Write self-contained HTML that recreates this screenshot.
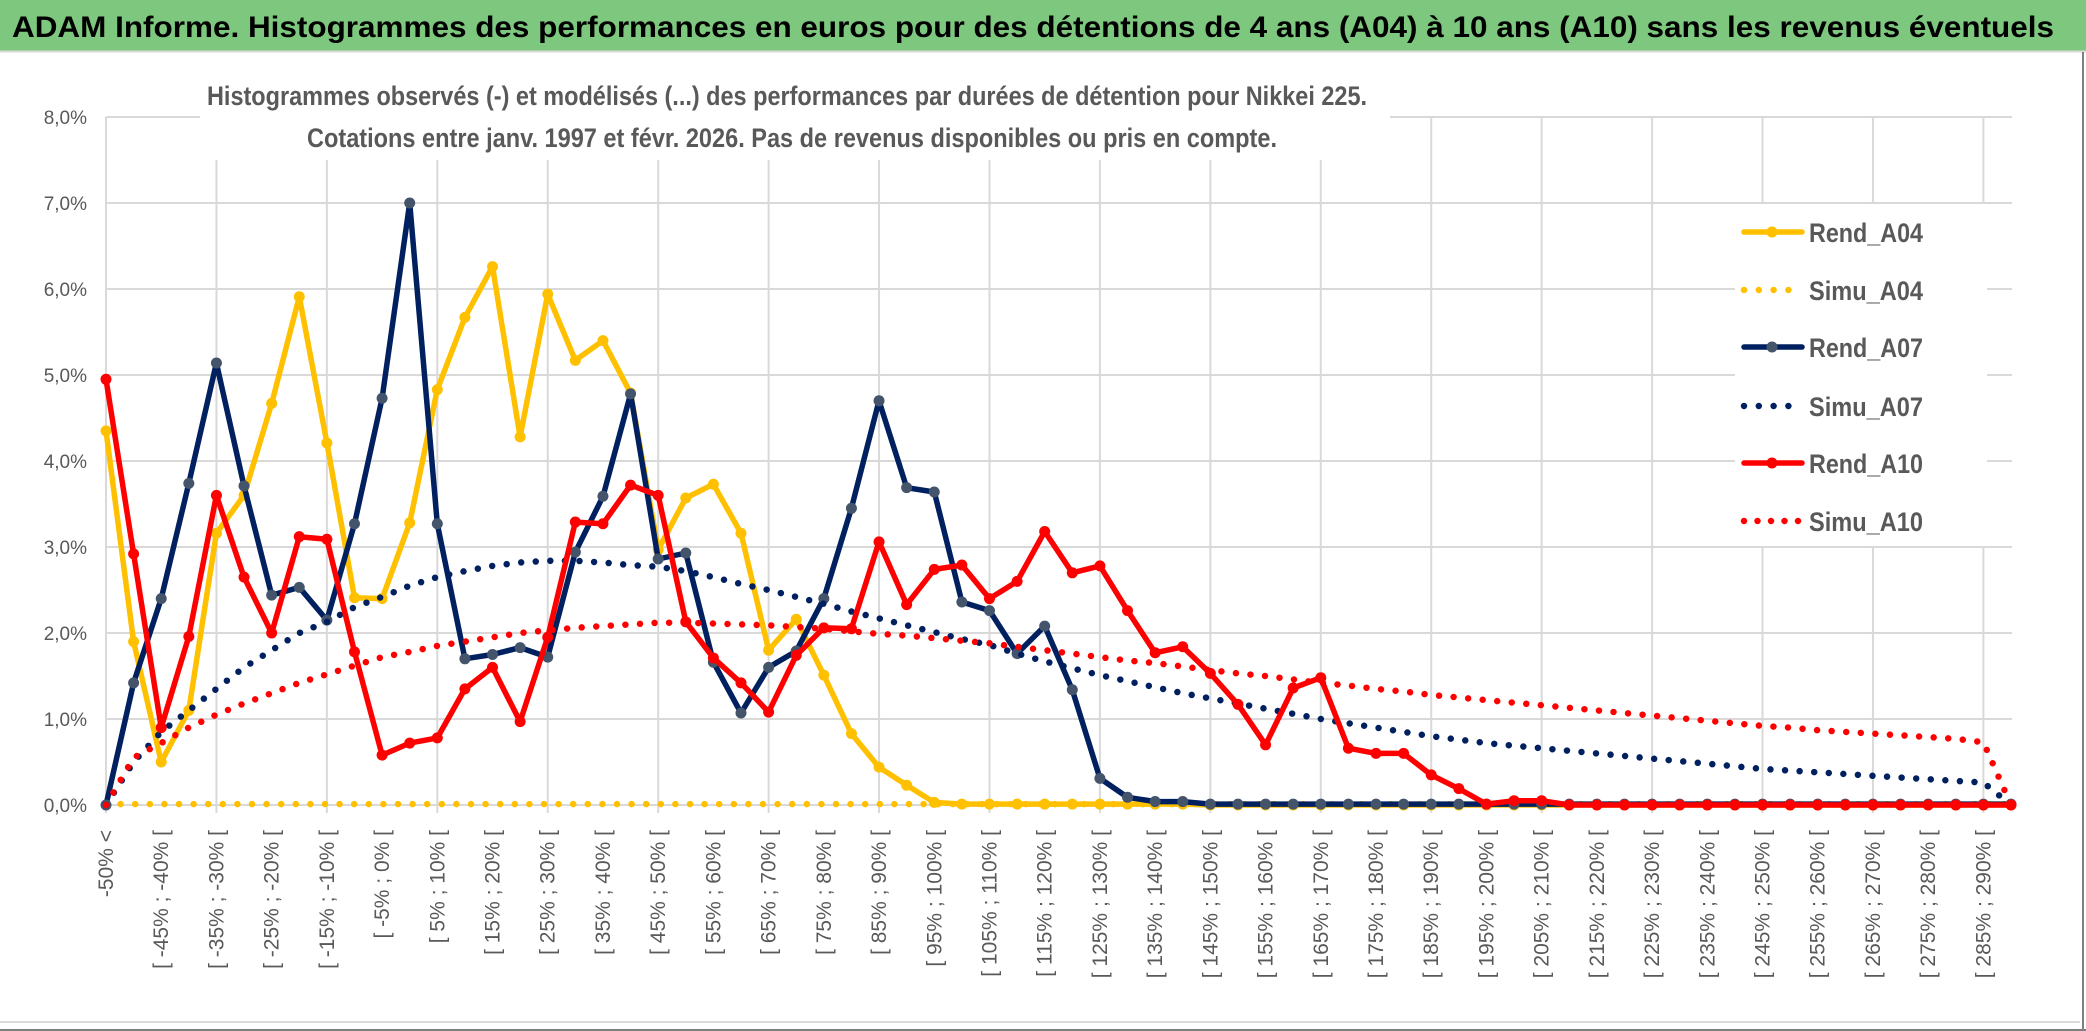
<!DOCTYPE html>
<html>
<head>
<meta charset="utf-8">
<style>
html,body{margin:0;padding:0;background:#fff;}
body{width:2086px;height:1031px;overflow:hidden;font-family:"Liberation Sans",sans-serif;}
svg{display:block;}
</style>
</head>
<body>
<svg id="chart" width="2086" height="1031" viewBox="0 0 2086 1031" xmlns="http://www.w3.org/2000/svg">
  <rect x="0" y="0" width="2086" height="1031" fill="#fff"/>
  <rect x="0" y="0" width="2086" height="51" fill="#7dc77e"/>
  <line x1="0" y1="51.5" x2="2086" y2="51.5" stroke="#d9d9d9" stroke-width="2"/>
  <text x="12" y="37" font-size="30" font-weight="bold" fill="#000" textLength="2042" lengthAdjust="spacingAndGlyphs">ADAM Informe. Histogrammes des performances en euros pour des détentions de 4 ans (A04) à 10 ans (A10) sans les revenus éventuels</text>
  <line x1="2083" y1="52" x2="2083" y2="1031" stroke="#7f7f7f" stroke-width="2"/>
  <line x1="0" y1="1030" x2="2086" y2="1030" stroke="#7f7f7f" stroke-width="2"/>
  <line x1="0" y1="1022" x2="2080" y2="1022" stroke="#d9d9d9" stroke-width="2"/>
  <g id="grid"></g>
  <g id="yaxis"></g>
  <g id="xaxis"></g>
  <g id="series"></g>
  <rect x="200" y="72" width="1190" height="88" fill="#fff"/>
  <text x="207" y="105" font-size="27" font-weight="bold" fill="#595959" textLength="1160" lengthAdjust="spacingAndGlyphs">Histogrammes observés (-) et modélisés (...) des performances par durées de détention pour Nikkei 225.</text>
  <text x="307" y="147" font-size="27" font-weight="bold" fill="#595959" textLength="970" lengthAdjust="spacingAndGlyphs">Cotations entre janv. 1997 et févr. 2026. Pas de revenus disponibles ou pris en compte.</text>
  <g id="legend"></g>
</svg>
<script>
const categories = ["-50% <"];
const bucketStarts = [-50,-45,-40,-35,-30,-25,-20,-15,-10,-5,0,5,10,15,20,25,30,35,40,45,50,55,60,65,70,75,80,85,90,95,100,105,110,115,120,125,130,135,140,145,150,155,160,165,170,175,180,185,190,195,200,205,210,215,220,225,230,235,240,245,250,255,260,265,270,275,280,285,290];
bucketStarts.forEach(b => categories.push("[ " + b + "% ; " + (b + 5) + "% ["));

const rendA04 = [4.35,1.9,0.5,1.1,3.16,3.6,4.67,5.91,4.21,2.41,2.4,3.28,4.83,5.67,6.26,4.28,5.94,5.17,5.4,4.79,2.97,3.57,3.73,3.16,1.8,2.16,1.51,0.83,0.44,0.23,0.03,0.01,0.01,0.01,0.01,0.01,0.01,0.01,0.01,0.01,0,0,0,0,0,0,0,0,0,0,0,0,0,0,0,0,0,0,0,0,0,0,0,0,0,0,0,0,0,0];
const simuA04 = [0.01,0.01,0.01,0.01,0.01,0.01,0.01,0.01,0.01,0.01,0.01,0.01,0.01,0.01,0.01,0.01,0.01,0.01,0.01,0.01,0.01,0.01,0.01,0.01,0.01,0.01,0.01,0.01,0.01,0.01,0.01,0.01,0.01,0.01,0.01,0.01,0.01,0.01,0.01,0.01,0.01,0.01,0.01,0.01,0.01,0.01,0.01,0.01,0.01,0.01,0.01,0.01,0.01,0.01,0.01,0.01,0.01,0.01,0.01,0.01,0.01,0.01,0.01,0.01,0.01,0.01,0.01,0.01,0.01,0.01];
const rendA07 = [0,1.42,2.4,3.74,5.14,3.71,2.44,2.53,2.15,3.27,4.73,7.0,3.27,1.7,1.75,1.83,1.72,2.94,3.59,4.78,2.86,2.93,1.66,1.07,1.6,1.79,2.4,3.45,4.7,3.69,3.64,2.36,2.26,1.76,2.08,1.34,0.31,0.09,0.04,0.04,0.01,0.01,0.01,0.01,0.01,0.01,0.01,0.01,0.01,0.01,0.01,0.01,0.01,0.01,0.01,0.01,0.01,0.01,0.01,0.01,0.01,0.01,0.01,0.01,0.01,0.01,0.01,0.01,0.01,0.01];
const simuA07 = [0,0.5,0.85,1.1,1.35,1.6,1.8,2.0,2.13,2.3,2.42,2.55,2.65,2.72,2.78,2.82,2.84,2.84,2.82,2.79,2.77,2.72,2.65,2.57,2.5,2.42,2.34,2.25,2.17,2.09,2.01,1.93,1.86,1.76,1.67,1.59,1.51,1.44,1.37,1.3,1.24,1.18,1.12,1.06,1.0,0.95,0.9,0.85,0.8,0.76,0.72,0.69,0.66,0.63,0.6,0.57,0.54,0.51,0.48,0.45,0.42,0.4,0.38,0.36,0.34,0.32,0.3,0.28,0.26,0];
const rendA10 = [4.95,2.92,0.9,1.96,3.6,2.65,2.0,3.12,3.09,1.78,0.58,0.72,0.78,1.35,1.6,0.97,1.95,3.29,3.27,3.72,3.6,2.13,1.71,1.42,1.08,1.74,2.06,2.05,3.06,2.33,2.74,2.79,2.4,2.6,3.18,2.7,2.78,2.26,1.77,1.84,1.53,1.17,0.7,1.36,1.48,0.66,0.6,0.6,0.35,0.19,0.01,0.05,0.05,0,0,0,0,0,0,0,0,0,0,0,0,0,0,0,0,0];
const simuA10 = [0,0.55,0.72,0.9,1.05,1.18,1.3,1.42,1.52,1.62,1.72,1.78,1.85,1.9,1.95,2.0,2.03,2.06,2.08,2.1,2.12,2.12,2.11,2.1,2.09,2.07,2.05,2.02,1.99,1.97,1.94,1.91,1.88,1.84,1.8,1.76,1.72,1.68,1.65,1.61,1.57,1.53,1.5,1.46,1.42,1.39,1.35,1.32,1.28,1.25,1.22,1.19,1.16,1.13,1.1,1.07,1.04,1.01,0.98,0.95,0.92,0.9,0.87,0.85,0.83,0.81,0.79,0.77,0.73,0];
const yTicks = [0,1,2,3,4,5,6,7,8];
const yTickLabels = ["0,0%","1,0%","2,0%","3,0%","4,0%","5,0%","6,0%","7,0%","8,0%"];
const seriesNames = ["Rend_A04","Simu_A04","Rend_A07","Simu_A07","Rend_A10","Simu_A10"];

const NS = "http://www.w3.org/2000/svg";
const X0 = 106, X1 = 2011, Y0 = 805, Y8 = 117, PLOT_RIGHT = 2012;
const n = categories.length;
function xPos(i){ return X0 + (X1 - X0) * i / (n - 1); }
function yPos(v){ return Y0 - (Y0 - Y8) * v / 8; }
function mk(tag, attrs, parent){
  const el = document.createElementNS(NS, tag);
  for (const k in attrs) el.setAttribute(k, attrs[k]);
  parent.appendChild(el);
  return el;
}

const grid = document.getElementById('grid');
yTicks.forEach((t, k) => {
  const l = mk('line', {x1: X0, x2: PLOT_RIGHT, y1: yPos(t), y2: yPos(t), stroke: '#d9d9d9', 'stroke-width': 2}, grid);
  
  
});
for (let i = 0; i < n; i += 4) {
  const l = mk('line', {x1: xPos(i), x2: xPos(i), y1: Y8, y2: Y0 + 8, stroke: '#d9d9d9', 'stroke-width': 2}, grid);
  
  
}

const yaxis = document.getElementById('yaxis');
yTicks.forEach((t, k) => {
  const tx = mk('text', {x: 87, y: yPos(t) + 7, 'text-anchor': 'end', 'font-size': 19, fill: '#595959'}, yaxis);
  tx.textContent = yTickLabels[k];
  
  
});

const xaxis = document.getElementById('xaxis');
for (let i = 0; i < n; i += 2) {
  const x = xPos(i) + 7;
  const tx = mk('text', {x: x, y: 830, 'text-anchor': 'end', 'font-size': 21, fill: '#595959', transform: 'rotate(-90 ' + x + ' 830)'}, xaxis);
  tx.textContent = categories[i];
  
  
}

const seriesG = document.getElementById('series');
function pathFor(vals){ return vals.map((v, i) => (i ? 'L' : 'M') + xPos(i).toFixed(1) + ' ' + yPos(v).toFixed(1)).join(' '); }
function drawRend(vals, color, markerColor, name){
  const g = mk('g', {}, seriesG);
  
  
  const p = mk('path', {d: pathFor(vals), fill: 'none', stroke: color, 'stroke-width': 5.5, 'stroke-linejoin': 'round', 'stroke-linecap': 'round'}, g);
  
  
  vals.forEach((v, i) => {
    const c = mk('circle', {cx: xPos(i), cy: yPos(v), r: 5.5, fill: markerColor}, g);
    
    
  });
}
function drawSimu(vals, color, name){
  const p = mk('path', {d: pathFor(vals), fill: 'none', stroke: color, 'stroke-width': 6.5, 'stroke-linecap': 'round', 'stroke-dasharray': '0 14.6'}, seriesG);
  
  
}
drawRend(rendA04, '#ffc000', '#ffc000', 'rend-a04');
drawSimu(simuA04, '#ffc000', 'simu-a04');
drawRend(rendA07, '#002060', '#44546a', 'rend-a07');
drawSimu(simuA07, '#002060', 'simu-a07');
drawRend(rendA10, '#ff0000', '#ff0000', 'rend-a10');
drawSimu(simuA10, '#ff0000', 'simu-a10');

const legend = document.getElementById('legend');
const lbg = mk('rect', {x: 1735, y: 204, width: 252, height: 342, fill: '#fff'}, legend);


const legY = [232, 290, 347, 406, 463, 521];
const legColors = ['#ffc000', '#ffc000', '#002060', '#002060', '#ff0000', '#ff0000'];
const legMarker = ['#ffc000', null, '#44546a', null, '#ff0000', null];
seriesNames.forEach((nm, k) => {
  const g = mk('g', {}, legend);
  
  
  const y = legY[k];
  if (legMarker[k]) {
    mk('line', {x1: 1744, x2: 1802, y1: y, y2: y, stroke: legColors[k], 'stroke-width': 5.5, 'stroke-linecap': 'round'}, g);
    mk('circle', {cx: 1772, cy: y, r: 5.5, fill: legMarker[k]}, g);
  } else {
    const x2 = k === 5 ? 1799 : 1789;
    mk('line', {x1: 1744, x2: x2, y1: y, y2: y, stroke: legColors[k], 'stroke-width': 6.5, 'stroke-linecap': 'round', 'stroke-dasharray': k === 5 ? '0 13.5' : '0 14.8'}, g);
  }
  const t = mk('text', {x: 1809, y: y + 10, 'font-size': 27, 'font-weight': 'bold', fill: '#595959', textLength: 114, lengthAdjust: 'spacingAndGlyphs'}, g);
  t.textContent = nm;
});
</script>
</body>
</html>
